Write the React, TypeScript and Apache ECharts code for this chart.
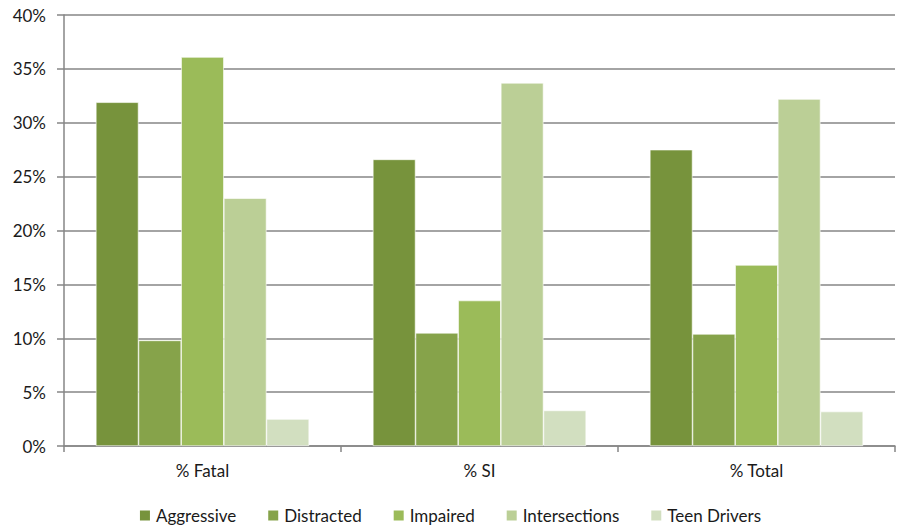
import React, { useEffect, useRef } from "react";
import * as echarts from "echarts";

const categories = ["% Fatal", "% SI", "% Total"];
const seriesNames = ["Aggressive", "Distracted", "Impaired", "Intersections", "Teen Drivers"];
const aggressive = [31.9, 26.6, 27.5];
const distracted = [9.8, 10.5, 10.4];
const impaired = [36.1, 13.5, 16.8];
const intersections = [23.0, 33.7, 32.2];
const teenDrivers = [2.5, 3.3, 3.2];
const colors = ["#77933C", "#86A34A", "#9BBB59", "#BBCF96", "#D2DFC0"];

export default function App() {
  const ref = useRef<HTMLDivElement>(null);
  useEffect(() => {
    const chart = echarts.init(ref.current!, undefined, { renderer: "svg" });
    const values = [aggressive, distracted, impaired, intersections, teenDrivers];
    const font = "Lato, 'Open Sans', sans-serif";
    chart.setOption({
      animation: false,
      grid: { left: 64, right: 4, top: 15, bottom: 81, containLabel: false },
      legend: {
        bottom: -2,
        left: "center",
        itemWidth: 12,
        itemHeight: 12,
        itemGap: 30,
        icon: "rect",
        textStyle: { fontFamily: font, fontSize: 17, color: "#1a1a1a" },
        data: seriesNames,
      },
      xAxis: {
        type: "category",
        data: categories,
        axisLine: { lineStyle: { color: "#868686", width: 1.5 } },
        axisTick: { show: true, length: 6, lineStyle: { color: "#868686", width: 1.5 } },
        axisLabel: { fontFamily: font, fontSize: 17, color: "#1a1a1a", margin: 16 },
      },
      yAxis: {
        type: "value",
        min: 0,
        max: 40,
        interval: 5,
        axisLine: { show: true, lineStyle: { color: "#868686", width: 1.5 } },
        axisTick: { show: true, length: 7, lineStyle: { color: "#868686", width: 1.5 } },
        splitLine: { lineStyle: { color: "#868686", width: 1.5 } },
        axisLabel: {
          fontFamily: font,
          fontSize: 17,
          color: "#1a1a1a",
          margin: 18,
          formatter: (v: number) => `${v}%`,
        },
      },
      series: seriesNames.map((name, i) => ({
        name,
        type: "bar",
        data: values[i],
        barGap: "0%",
        barCategoryGap: "23%",
        itemStyle: { color: colors[i], borderColor: "#ffffff", borderWidth: 0.6 },
      })),
    });
    return () => chart.dispose();
  }, []);
  return <div ref={ref} style={{ width: 899, height: 527, position: "absolute", left: 0, top: 0 }} />;
}
